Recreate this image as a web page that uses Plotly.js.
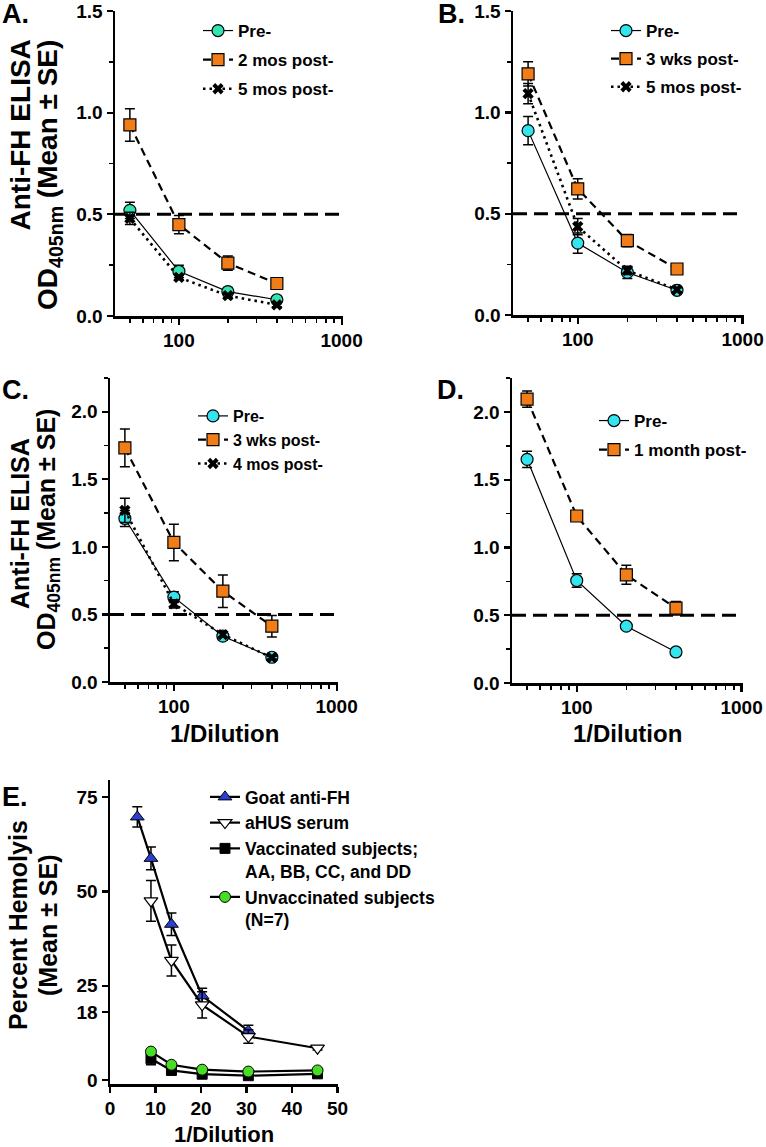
<!DOCTYPE html>
<html><head><meta charset="utf-8">
<script src="https://cdn.plot.ly/plotly-3.0.1.min.js"></script>
<style>html,body{margin:0;padding:0;background:#fff}</style>
</head><body><div id="chart" style="width:766px;height:1147px"></div>
<script>
// ---------- DATA ----------
const dilutions = [50, 100, 200, 400];
const threshold = 0.5;

// Panel A
const aLabels = ['Pre-', '2 mos post-', '5 mos post-'];
const aPre = [0.52, 0.22, 0.12, 0.08];
const aPreErr = [0.04, 0.03, 0.02, 0.01];
const aPost1 = [0.94, 0.45, 0.26, 0.16];
const aPost1Err = [0.08, 0.045, 0.035, 0.015];
const aPost2 = [0.48, 0.19, 0.10, 0.055];
const aPost2Err = [0.03, 0.01, 0.01, 0.01];

// Panel B
const bLabels = ['Pre-', '3 wks post-', '5 mos post-'];
const bPre = [0.91, 0.355, 0.21, 0.122];
const bPreErr = [0.07, 0.05, 0.03, 0.015];
const bPost1 = [1.19, 0.623, 0.367, 0.227];
const bPost1Err = [0.06, 0.05, 0.03, 0.02];
const bPost2 = [1.093, 0.436, 0.22, 0.125];
const bPost2Err = [0.05, 0.04, 0.02, 0.01];

// Panel C
const cLabels = ['Pre-', '3 wks post-', '4 mos post-'];
const cPre = [1.21, 0.628, 0.339, 0.183];
const cPreErr = [0.06, 0.04, 0.03, 0.02];
const cPost1 = [1.733, 1.033, 0.672, 0.413];
const cPost1Err = [0.14, 0.135, 0.12, 0.08];
const cPost2 = [1.27, 0.578, 0.351, 0.18];
const cPost2Err = [0.09, 0.03, 0.02, 0.01];

// Panel D
const dLabels = ['Pre-', '1 month post-'];
const dPre = [1.65, 0.756, 0.419, 0.229];
const dPreErr = [0.06, 0.05, 0.01, 0.01];
const dPost1 = [2.094, 1.232, 0.798, 0.552];
const dPost1Err = [0.06, 0.02, 0.07, 0.05];

// Panel E
const eLabels = ['Goat anti-FH', 'aHUS serum', 'Vaccinated subjects;<br>AA, BB, CC, and DD', 'Unvaccinated subjects<br>(N=7)'];
const eGoatX = [6, 9, 13.5, 20.25, 30.4];
const eGoat = [69.8, 58.8, 41.3, 22.3, 13.0];
const eGoatErr = [2.7, 3.0, 3.0, 2.0, 1.5];
const eX = [9, 13.5, 20.25, 30.4, 45.6];
const eAhus = [47.5, 31.7, 19.9, 11.5, 8.4];
const eAhusErr = [5.4, 4.1, 3.5, 1.8, 0.5];
const eVacc = [5.6, 2.5, 1.5, 1.1, 1.6];
const eVaccErr = [1.6, 0.5, 0.3, 0.3, 0.3];
const eUnvacc = [7.5, 4.0, 2.7, 2.2, 2.5];
const eUnvaccErr = [0.5, 0.3, 0.2, 0.2, 0.2];

const logTicks = [100, 1000];
const logMinor = [50, 60, 70, 80, 90, 200, 300, 400, 500, 600, 700, 800, 900];
const odTicks = [0, 0.5, 1.0, 1.5, 2.0];
const eXTicks = [0, 10, 20, 30, 40, 50];
const eYTicks = [0, 18, 25, 50, 75];

// ---------- STYLES ----------
const FONT = 'Liberation Sans, Arial, Helvetica, sans-serif';
const MINT = '#33e3b3', CYAN = '#33e5ee', ORANGE = '#f07d18', BLUE = '#2b3fd0', GREEN = '#47dd24';
const styles = {
  preMint: {line: {color: '#000', width: 1.2, dash: 'solid'}, marker: {symbol: 'circle', size: 12, color: MINT, line: {color: '#000', width: 1.2}}},
  preCyan: {line: {color: '#000', width: 1.2, dash: 'solid'}, marker: {symbol: 'circle', size: 12, color: CYAN, line: {color: '#000', width: 1.2}}},
  post1: {line: {color: '#000', width: 2.2, dash: '8px,5px'}, marker: {symbol: 'square', size: 12, color: ORANGE, line: {color: '#000', width: 1.2}}},
  post2: {line: {color: '#000', width: 2.6, dash: '2.5px,4px'}, marker: {symbol: 'x', size: 10, color: '#000', line: {width: 0}}},
  goat: {line: {color: '#000', width: 2.2}, marker: {symbol: 'triangle-up', size: 12, color: BLUE, line: {color: '#000', width: 1}}},
  ahus: {line: {color: '#000', width: 2.2}, marker: {symbol: 'triangle-down', size: 12, color: '#fff', line: {color: '#000', width: 1.2}}},
  vacc: {line: {color: '#000', width: 2.2}, marker: {symbol: 'square', size: 10, color: '#000', line: {color: '#000', width: 1}}},
  unvacc: {line: {color: '#000', width: 2.2}, marker: {symbol: 'circle', size: 11, color: GREEN, line: {color: '#000', width: 1}}}
};

let gid = 0;
function tr(x, y, err, name, style, ax, legend) {
  gid++;
  return {
    type: 'scatter', mode: 'lines+markers', x: x, y: y, name: name,
    xaxis: 'x' + ax, yaxis: 'y' + ax, legend: legend, legendgroup: 'g' + gid,
    line: style.line, marker: style.marker,
    error_y: {type: 'data', array: err, visible: true, color: '#000', thickness: 1.5, width: 5},
    cliponaxis: false
  };
}

const data = [
  tr(dilutions, aPre, aPreErr, aLabels[0], styles.preMint, '', 'legend'),
  tr(dilutions, aPost1, aPost1Err, aLabels[1], styles.post1, '', 'legend'),
  tr(dilutions, aPost2, aPost2Err, aLabels[2], styles.post2, '', 'legend'),
  tr(dilutions, bPre, bPreErr, bLabels[0], styles.preCyan, '2', 'legend2'),
  tr(dilutions, bPost1, bPost1Err, bLabels[1], styles.post1, '2', 'legend2'),
  tr(dilutions, bPost2, bPost2Err, bLabels[2], styles.post2, '2', 'legend2'),
  tr(dilutions, cPre, cPreErr, cLabels[0], styles.preCyan, '3', 'legend3'),
  tr(dilutions, cPost1, cPost1Err, cLabels[1], styles.post1, '3', 'legend3'),
  tr(dilutions, cPost2, cPost2Err, cLabels[2], styles.post2, '3', 'legend3'),
  tr(dilutions, dPre, dPreErr, dLabels[0], styles.preCyan, '4', 'legend4'),
  tr(dilutions, dPost1, dPost1Err, dLabels[1], styles.post1, '4', 'legend4'),
  tr(eGoatX, eGoat, eGoatErr, eLabels[0], styles.goat, '5', 'legend5'),
  tr(eX, eAhus, eAhusErr, eLabels[1], styles.ahus, '5', 'legend5'),
  tr(eX, eVacc, eVaccErr, eLabels[2], styles.vacc, '5', 'legend5'),
  tr(eX, eUnvacc, eUnvaccErr, eLabels[3], styles.unvacc, '5', 'legend5')
];

const W = 766, H = 1147;
const px = v => v / W, py = v => 1 - v / H;

const tickFont = {family: FONT, size: 19, color: '#000', weight: 'bold'};
const axisBase = {
  ticks: 'outside', ticklen: 6, tickwidth: 2.2, tickcolor: '#000', showline: true, linewidth: 2.5,
  linecolor: '#000', showgrid: false, zeroline: false, tickfont: tickFont, fixedrange: true,
  ticklabeloverflow: 'allow'
};
function logAxis(x0, x1, anchor) {
  return Object.assign({}, axisBase, {
    domain: [px(x0), px(x1)], anchor: anchor, type: 'log', range: [Math.log10(40.5), Math.log10(1020)],
    tickvals: logTicks, ticktext: logTicks.map(String),
    minor: {tickvals: logMinor, ticks: 'outside', ticklen: 4, tickwidth: 1.6, tickcolor: '#000', showgrid: false}
  });
}
function linY(y0, y1, range, anchor) {
  return Object.assign({}, axisBase, {
    domain: [py(y1), py(y0)], range: range, anchor: anchor,
    tickvals: odTicks, tickformat: '.1f',
    minor: {dtick: 0.25, tick0: 0, ticks: 'outside', ticklen: 4, tickwidth: 1.6, tickcolor: '#000', showgrid: false}
  });
}

const layout = {
  width: W, height: H, margin: {l: 0, r: 0, t: 0, b: 0},
  paper_bgcolor: '#fff', plot_bgcolor: '#fff',
  font: {family: FONT, color: '#000'},
  showlegend: true,
  xaxis: logAxis(115, 343, 'y'),
  yaxis: linY(11, 316, [0, 1.5005], 'x'),
  xaxis2: logAxis(513, 744, 'y2'),
  yaxis2: linY(11, 315, [0, 1.5005], 'x2'),
  xaxis3: logAxis(110, 338, 'y3'),
  yaxis3: linY(378, 682, [0, 2.25], 'x3'),
  xaxis4: logAxis(512, 743, 'y4'),
  yaxis4: linY(378, 683, [0, 2.25], 'x4'),
  xaxis5: Object.assign({}, axisBase, {domain: [px(110), px(338)], anchor: 'y5', range: [0, 50.1], tickvals: eXTicks}),
  yaxis5: Object.assign({}, axisBase, {domain: [py(1084), py(780)], anchor: 'x5', range: [-1.1, 79.6], tickvals: eYTicks}),
  shapes: ['', '2', '3', '4'].map(k => ({
    type: 'line', layer: 'below', xref: 'x' + k + ' domain', yref: 'y' + k,
    x0: 0, x1: 1, y0: threshold, y1: threshold,
    line: {color: '#000', width: 3, dash: '14px,7px'}
  })),
  annotations: []
};

const legFont = {family: FONT, size: 17, color: '#000', weight: 'bold'};
function leg(xText, yTop, gap, size) {
  return {x: px(xText - 42), y: py(yTop), xanchor: 'left', yanchor: 'top', bgcolor: 'rgba(0,0,0,0)',
    font: Object.assign({}, legFont, {size: size || 17}), tracegroupgap: gap, itemwidth: 30,
    traceorder: 'grouped', valign: 'top'};
}
layout.legend = leg(240, 13, 4);
layout.legend2 = leg(648, 13, 3);
layout.legend3 = leg(235, 399, 0, 16);
layout.legend4 = leg(636, 403, 4);
layout.legend5 = leg(247, 779, 0, 17.5);

const ann = layout.annotations;
function txt(text, x, y, size, opts) {
  ann.push(Object.assign({text: text, xref: 'paper', yref: 'paper', x: px(x), y: py(y), showarrow: false,
    font: {family: FONT, size: size, color: '#000', weight: 'bold'}, xanchor: 'center', yanchor: 'middle'}, opts || {}));
}
// panel letters
txt('A.', 0, 14, 27, {xanchor: 'left'});
txt('B.', 436, 14, 27, {xanchor: 'left'});
txt('C.', 0, 390, 27, {xanchor: 'left'});
txt('D.', 435, 390, 27, {xanchor: 'left'});
txt('E.', 0, 797, 27, {xanchor: 'left'});
// y titles
txt('Anti-FH ELISA', 20, 38, 28, {textangle: -90, yanchor: 'top'});
txt('OD<sub>405nm</sub> (Mean ± SE)', 49, 38, 28, {textangle: -90, yanchor: 'top'});
txt('Anti-FH ELISA', 20, 524, 25, {textangle: -90});
txt('OD<sub>405nm</sub> (Mean ± SE)', 48, 530, 25, {textangle: -90});
txt('Percent Hemolyis', 18, 925, 25, {textangle: -90});
txt('(Mean ± SE)', 48, 925, 25, {textangle: -90});
// x titles
txt('1/Dilution', 224, 733, 24);
txt('1/Dilution', 627, 733, 24);
txt('1/Dilution', 224, 1134, 22);

Plotly.newPlot('chart', data, layout, {staticPlot: true, displayModeBar: false});
</script>
</body></html>
